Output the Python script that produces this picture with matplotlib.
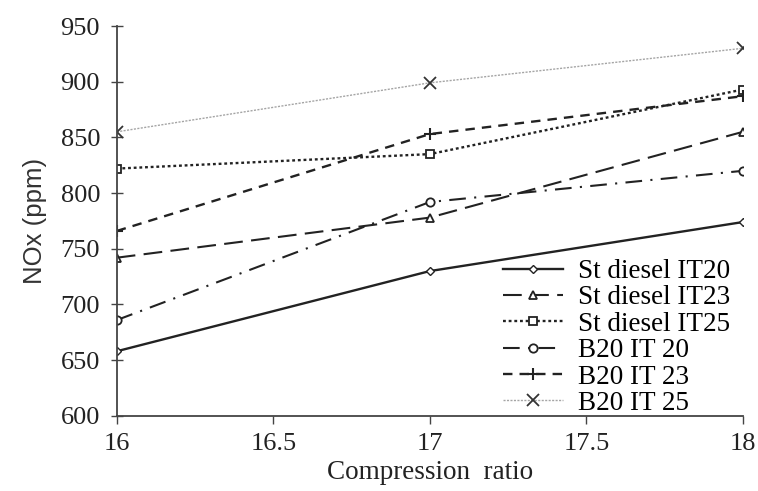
import matplotlib
matplotlib.use("Agg")
import matplotlib.pyplot as plt

# Data
compression_ratio = [16, 17, 18]
st_diesel_it20 = [658, 730, 774]
st_diesel_it23 = [742, 778, 855]
st_diesel_it25 = [822, 835, 893]
b20_it20 = [686, 792, 820]
b20_it23 = [766, 853, 887]
b20_it25 = [855, 899, 930]

y_ticks = [600, 650, 700, 750, 800, 850, 900, 950]
x_ticks = [16, 16.5, 17, 17.5, 18]
x_tick_labels = ["16", "16.5", "17", "17.5", "18"]

serif = "Liberation Serif"

fig = plt.figure(figsize=(7.58, 4.91), dpi=100)
ax = fig.add_axes([0.154, 0.153, 0.826, 0.794])

dark = "#222222"
ax.plot(compression_ratio, st_diesel_it20, color=dark, lw=1.7, ls="-",
        marker="D", ms=4.5, mfc="white", mec=dark, mew=1.0, label="St diesel IT20")
ax.plot(compression_ratio, st_diesel_it23, color=dark, lw=1.5, ls=(0, (9, 4)),
        marker="^", ms=6, mfc="white", mec=dark, mew=1.3, label="St diesel IT23")
ax.plot(compression_ratio, st_diesel_it25, color=dark, lw=1.7, ls=(0, (1.2, 1.2)),
        marker="s", ms=6, mfc="white", mec=dark, mew=1.3, label="St diesel IT25")
ax.plot(compression_ratio, b20_it20, color=dark, lw=1.5, ls=(0, (8, 4, 1, 4)),
        marker="o", ms=6, mfc="white", mec=dark, mew=1.3, label="B20 IT 20")
ax.plot(compression_ratio, b20_it23, color=dark, lw=1.7, ls=(0, (4, 3)),
        marker="+", ms=9, mec=dark, mew=1.5, label="B20 IT 23")
ax.plot(compression_ratio, b20_it25, color="#a5a5a5", lw=1.0, ls=(0, (1.5, 1)),
        marker="x", ms=8, mec="#333333", mew=1.3, label="B20 IT 25")

ax.set_xlim(16, 18)
ax.set_ylim(600, 950)
ax.set_xticks(x_ticks)
ax.set_xticklabels(x_tick_labels)
ax.set_yticks(y_ticks)

for side in ["top", "right"]:
    ax.spines[side].set_visible(False)
for side in ["left", "bottom"]:
    ax.spines[side].set_color("#444444")
    ax.spines[side].set_linewidth(1.3)

ax.tick_params(axis="y", direction="inout", length=8, width=1.0, color="#444444",
               labelsize=19, pad=8)
ax.tick_params(axis="x", direction="out", length=6, width=1.0, color="#444444",
               labelsize=19, pad=6)
for lbl in ax.get_xticklabels() + ax.get_yticklabels():
    lbl.set_fontfamily(serif)
    lbl.set_color("#222222")

ax.set_xlabel("Compression  ratio", fontfamily=serif, fontsize=19.5, color="#222222", labelpad=4)
ax.set_ylabel("NOx (ppm)", fontfamily="Liberation Sans", fontsize=18.5, color="#333333", labelpad=10)

ax.legend(loc="lower left", bbox_to_anchor=(0.617, 0.0), frameon=False,
          prop={"family": serif, "size": 19.5}, handlelength=2.2, handletextpad=0.55,
          labelspacing=0.05, borderpad=0, borderaxespad=0)

fig.savefig("out.png", dpi=100)
